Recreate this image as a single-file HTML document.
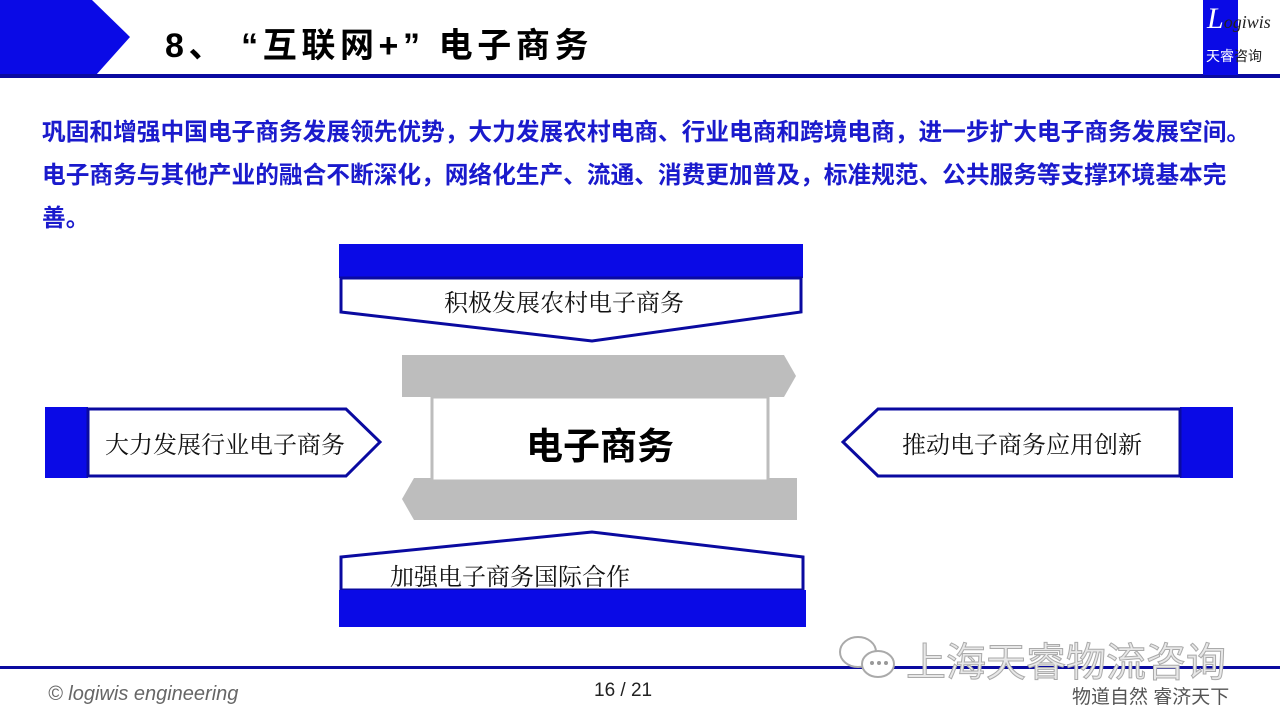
<!DOCTYPE html>
<html><head><meta charset="utf-8"><style>
body{margin:0;width:1280px;height:720px;background:#fff;position:relative;overflow:hidden;font-family:"Liberation Sans","Noto Sans CJK SC",sans-serif}
.a{position:absolute;white-space:nowrap}
.s{font-family:"Liberation Serif","Noto Serif CJK SC",serif;font-size:24px;color:#111}
</style></head><body>
<svg class="a" style="left:0;top:0" width="1280" height="720">
<polygon points="0,0 92,0 130,37 96,75 0,75" fill="#0a0ae6"/>
<rect x="0" y="74" width="1280" height="4" fill="#0a0aa0"/>
<rect x="1203" y="0" width="35" height="75" fill="#0a0ae6"/>
<rect x="0" y="666" width="1280" height="3" fill="#0a0aa0"/>
<rect x="339" y="244" width="464" height="34" fill="#0a0ae6"/>
<polygon points="341,278 801,278 801,312 592,341 341,312" fill="#fff" stroke="#0a0aa0" stroke-width="3"/>
<polygon points="402,355 784,355 796,376 784,397 402,397" fill="#bdbdbd"/>
<polygon points="414,478 797,478 797,520 414,520 402,499" fill="#bdbdbd"/>
<rect x="432" y="397" width="336" height="84" fill="#fff" stroke="#bdbdbd" stroke-width="3"/>
<polygon points="341,557 592,532 803,557 803,590 341,590" fill="#fff" stroke="#0a0aa0" stroke-width="3"/>
<rect x="339" y="590" width="467" height="37" fill="#0a0ae6"/>
<rect x="45" y="407" width="43" height="71" fill="#0a0ae6"/>
<polygon points="88,409 346,409 380,442 346,476 88,476" fill="#fff" stroke="#0a0aa0" stroke-width="3"/>
<rect x="1180" y="407" width="53" height="71" fill="#0a0ae6"/>
<polygon points="1180,409 878,409 843,442 878,476 1180,476" fill="#fff" stroke="#0a0aa0" stroke-width="3"/>
<g fill="#fff" stroke="#aaa" stroke-width="2">
<ellipse cx="858" cy="652" rx="18" ry="15"/>
<ellipse cx="878" cy="664" rx="16" ry="13"/>
</g>
<g fill="#999"><circle cx="872" cy="663" r="2"/><circle cx="879" cy="663" r="2"/><circle cx="886" cy="663" r="2"/></g>
</svg>
<div class="a" style="left:165px;top:18px;font-size:34px;font-weight:bold;color:#000;letter-spacing:4.6px">8、 “互联网+” 电子商务</div>
<div class="a" style="left:1207px;top:2px;font-family:'Liberation Serif',serif;font-style:italic;color:#222;font-size:18px"><span style="font-size:30px;color:#fff">L</span>ogiwis</div>
<div class="a" style="left:1206px;top:46px;color:#222;font-size:14px"><span style="color:#fff">天睿</span>咨询</div>
<div class="a" style="left:42px;top:112px;font-size:23.7px;font-weight:bold;color:#1a1acc;line-height:43px">巩固和增强中国电子商务发展领先优势，大力发展农村电商、行业电商和跨境电商，进一步扩大电子商务发展空间。<br>电子商务与其他产业的融合不断深化，网络化生产、流通、消费更加普及，标准规范、公共服务等支撑环境基本完<br>善。</div>
<div class="a s" style="left:444px;top:283px">积极发展农村电子商务</div>
<div class="a s" style="left:390px;top:557px">加强电子商务国际合作</div>
<div class="a s" style="left:105px;top:425px">大力发展行业电子商务</div>
<div class="a s" style="left:902px;top:425px">推动电子商务应用创新</div>
<div class="a" style="left:526px;top:416px;font-size:37px;font-weight:bold;color:#000">电子商务</div>
<div class="a" style="left:906px;top:630px;font-size:40px;color:#e8e8e8;-webkit-text-stroke:1px #aaa">上海天睿物流咨询</div>
<div class="a" style="left:48px;top:683px;font-size:20px;font-style:italic;color:#666">© logiwis engineering</div>
<div class="a" style="left:594px;top:680px;font-size:19px;color:#222">16 / 21</div>
<div class="a" style="left:1072px;top:682px;font-size:19px;color:#555">物道自然 睿济天下</div>
</body></html>
